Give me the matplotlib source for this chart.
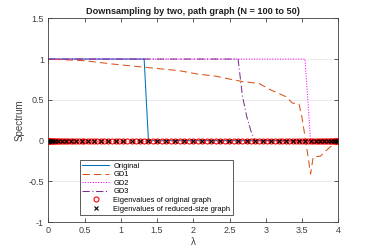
import matplotlib
matplotlib.use('Agg')
import matplotlib.pyplot as plt

plt.rcParams['font.family'] = ['Liberation Sans', 'DejaVu Sans']

# eigenvalues of the path graph, N = 100
lam_orig = [0.0000, 0.0010, 0.0039, 0.0089, 0.0158, 0.0246, 0.0354, 0.0482, 0.0628, 0.0794,
            0.0979, 0.1182, 0.1404, 0.1645, 0.1903, 0.2180, 0.2474, 0.2785, 0.3113, 0.3458,
            0.3820, 0.4197, 0.4590, 0.4998, 0.5421, 0.5858, 0.6309, 0.6774, 0.7252, 0.7742,
            0.8244, 0.8758, 0.9283, 0.9819, 1.0365, 1.0920, 1.1484, 1.2057, 1.2638, 1.3225,
            1.3820, 1.4420, 1.5026, 1.5637, 1.6252, 1.6871, 1.7493, 1.8118, 1.8744, 1.9372,
            2.0000, 2.0628, 2.1256, 2.1882, 2.2507, 2.3129, 2.3748, 2.4363, 2.4974, 2.5580,
            2.6180, 2.6775, 2.7362, 2.7943, 2.8516, 2.9080, 2.9635, 3.0181, 3.0717, 3.1242,
            3.1756, 3.2258, 3.2748, 3.3226, 3.3691, 3.4142, 3.4579, 3.5002, 3.5410, 3.5803,
            3.6180, 3.6542, 3.6887, 3.7215, 3.7526, 3.7820, 3.8097, 3.8355, 3.8596, 3.8818,
            3.9021, 3.9206, 3.9372, 3.9518, 3.9646, 3.9754, 3.9842, 3.9911, 3.9961, 3.9990]

# eigenvalues of the reduced graph, N = 50
lam_red = [0.0000, 0.0039, 0.0158, 0.0354, 0.0628, 0.0979, 0.1404, 0.1903, 0.2474, 0.3113,
           0.3820, 0.4590, 0.5421, 0.6309, 0.7252, 0.8244, 0.9283, 1.0365, 1.1484, 1.2638,
           1.3820, 1.5026, 1.6252, 1.7493, 1.8744, 2.0000, 2.1256, 2.2507, 2.3748, 2.4974,
           2.6180, 2.7362, 2.8516, 2.9635, 3.0717, 3.1756, 3.2748, 3.3691, 3.4579, 3.5410,
           3.6180, 3.6887, 3.7526, 3.8097, 3.8596, 3.9021, 3.9372, 3.9646, 3.9842, 3.9961]

# response curves
orig_x = [0.0, 1.3225, 1.3820, 3.9990]
orig_y = [1.0, 1.0, 0.0, 0.0]

gd1_x = [0.0, 0.0039, 0.4998, 0.8758, 1.3225, 1.8118, 2.0628, 2.3129, 2.4974, 2.6775,
         2.9080, 3.0717, 3.2258, 3.2748, 3.3691, 3.4579, 3.5002, 3.5410, 3.5803, 3.6180,
         3.6542, 3.7526, 3.8355, 3.9372, 3.9990]
gd1_y = [0.93, 1.0, 0.98, 0.94, 0.90, 0.857, 0.815, 0.79, 0.755, 0.725,
         0.70, 0.62, 0.56, 0.54, 0.46, 0.45, 0.28, 0.05, -0.18, -0.41,
         -0.20, -0.19, -0.12, -0.04, 0.0]

gd2_x = [0.0, 3.5410, 3.5803, 3.6180, 3.9990]
gd2_y = [1.0, 1.0, 0.5, 0.0, 0.0]

gd3_x = [0.0, 2.6180, 2.6775, 2.7362, 2.7943, 2.8516, 3.9990]
gd3_y = [1.0, 1.0, 0.55, 0.30, 0.12, 0.0, 0.0]

fig = plt.figure(figsize=(3.74, 2.5), dpi=100)
ax = fig.add_axes([0.129, 0.111, 0.7755, 0.816])

ax.plot(orig_x, orig_y, color='#0072BD', lw=0.75, label='Original')
ax.plot(gd1_x, gd1_y, color='#D95319', lw=0.75, ls=(0, (7, 4)), label='GD1')
ax.plot(gd2_x, gd2_y, color='#FF00FF', lw=0.75, ls=(0, (1, 1.5)), label='GD2')
ax.plot(gd3_x, gd3_y, color='#7E2F8E', lw=0.75, ls=(0, (7, 2.5, 1, 2.5)), label='GD3')
ax.plot(lam_orig, [0] * len(lam_orig), 'o', mfc='none', mec='red', ms=3.6, mew=0.8,
        label='Eigenvalues of original graph')
ax.plot(lam_red, [0] * len(lam_red), 'x', color='black', ms=3.5, mew=0.8,
        label='Eigenvalues of reduced-size graph')

ax.set_xlim(0, 4)
ax.set_ylim(-1, 1.5)
ax.set_xticks([0, 0.5, 1, 1.5, 2, 2.5, 3, 3.5, 4])
ax.set_xticklabels(['0', '0.5', '1', '1.5', '2', '2.5', '3', '3.5', '4'])
ax.set_yticks([-1, -0.5, 0, 0.5, 1, 1.5])
ax.set_yticklabels(['-1', '-0.5', '0', '0.5', '1', '1.5'])
ax.yaxis.grid(True, color='#e6e6e6', lw=0.6)
ax.set_axisbelow(True)
ax.tick_params(direction='in', top=True, right=True, length=3, width=0.6,
               labelsize=6.5, colors='#404040', pad=3)
for s in ax.spines.values():
    s.set_color('#404040')
    s.set_linewidth(0.6)

ax.set_title('Downsampling by two, path graph (N = 100 to 50)', fontsize=6.6,
             fontweight='bold', color='#202020', pad=3)
ax.set_xlabel('λ', fontsize=7, color='#404040', labelpad=1)
ax.set_ylabel('Spectrum', fontsize=7, color='#404040', labelpad=3)

leg = ax.legend(loc='lower left', bbox_to_anchor=(0.109, 0.034), fontsize=5.4,
                frameon=True, fancybox=False, edgecolor='#404040', framealpha=1,
                handlelength=3.6, handletextpad=0.5, labelspacing=0.18,
                borderpad=0.35, borderaxespad=0)
leg.get_frame().set_linewidth(0.6)

fig.savefig('out.png', dpi=100)
